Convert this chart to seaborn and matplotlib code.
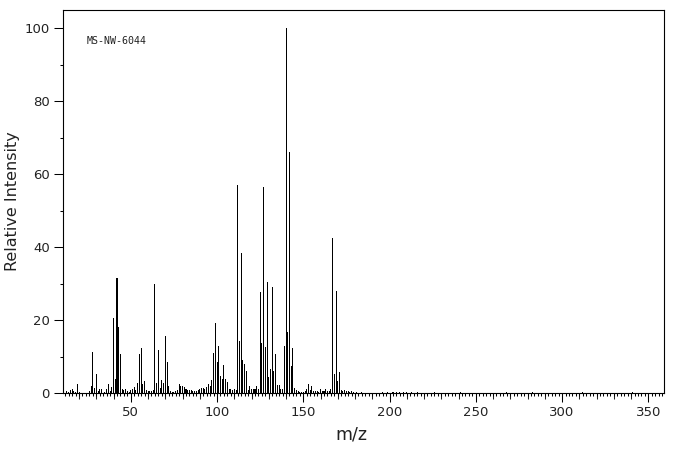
import pandas as pd
import seaborn as sns
import matplotlib.pyplot as plt
from matplotlib.ticker import MultipleLocator, FixedLocator

# peak list (m/z, relative intensity)
mz = [13, 14, 15, 16, 17, 18, 19, 20, 26, 27, 28, 29, 30, 31, 32, 33, 35, 36, 37, 38,
      39, 40, 41, 42, 43, 44, 45, 46, 47, 48, 49, 50, 51, 52, 53, 54, 55, 56, 57, 58,
      59, 60, 61, 62, 63, 64, 65, 66, 67, 68, 69, 70, 71, 72, 73, 74, 75, 76, 77, 78,
      79, 80, 81, 82, 83, 84, 85, 86, 87, 88, 89, 90, 91, 92, 93, 94, 95, 96, 97, 98,
      99, 100, 101, 102, 103, 104, 105, 106, 107, 108, 109, 110, 111, 112, 113, 114, 115, 116, 117, 118,
      119, 120, 121, 122, 123, 124, 125, 126, 127, 128, 129, 130, 131, 132, 133, 134, 135, 136, 137, 138,
      139, 140, 141, 142, 143, 144, 145, 146, 147, 148, 149, 150, 151, 152, 153, 154, 155, 156, 157, 158,
      159, 160, 161, 162, 163, 164, 165, 166, 167, 168, 169, 170, 171, 172, 173, 174, 175, 176, 177, 178,
      179, 181, 184, 196, 199, 202, 204, 206, 208, 210, 213, 216, 226, 241, 268, 283, 312, 341]
intensity = [0.5, 0.3, 0.8, 1.0, 0.6, 0.4, 2.5, 0.3, 0.5, 1.9, 11.3, 1.5, 5.2, 0.5, 1.0, 1.0, 0.4, 1.0, 2.5, 0.5,
             1.6, 20.5, 3.8, 31.4, 18.2, 10.6, 1.1, 0.8, 1.1, 0.6, 0.4, 0.7, 1.1, 1.6, 0.8, 2.8, 10.7, 12.2, 2.5, 3.3,
             0.8, 0.6, 0.5, 0.5, 0.7, 29.9, 2.8, 11.8, 1.5, 3.5, 2.8, 15.6, 8.5, 1.8, 0.5, 0.4, 0.4, 0.5, 0.8, 2.4,
             1.9, 1.8, 1.6, 1.2, 0.9, 0.9, 0.9, 0.6, 0.6, 0.5, 0.8, 1.2, 1.5, 1.3, 1.0, 1.6, 2.5, 2.0, 3.5, 11.0,
             19.3, 8.5, 12.9, 4.6, 3.8, 7.7, 3.8, 3.0, 1.0, 1.2, 0.8, 1.0, 0.8, 57.0, 14.2, 38.3, 9.0, 8.0, 6.1, 0.8,
             1.9, 1.0, 1.2, 1.2, 1.9, 1.0, 27.8, 13.8, 56.4, 12.5, 30.4, 4.3, 6.6, 29.0, 6.1, 10.8, 2.2, 2.2, 1.2, 1.2,
             12.9, 100.0, 16.6, 66.0, 7.5, 12.3, 1.5, 0.8, 0.5, 0.4, 0.4, 0.4, 0.6, 1.2, 2.5, 0.9, 1.8, 0.6, 0.6, 0.5,
             0.4, 1.2, 0.5, 0.6, 1.2, 0.6, 0.5, 1.2, 42.6, 5.3, 27.9, 3.4, 5.7, 0.8, 0.6, 0.7, 0.5, 0.6, 0.4, 0.5,
             0.4, 0.3, 0.3, 0.3, 0.3, 0.4, 0.3, 0.3, 0.3, 0.3, 0.3, 0.3, 0.3, 0.3, 0.3, 0.3, 0.3, 0.3]

x_ticks = [50, 100, 150, 200, 250, 300, 350]
y_ticks = [0, 20, 40, 60, 80, 100]

spectrum = pd.DataFrame({"mz": mz, "intensity": intensity})

sns.set_style("ticks")
plt.rcParams["font.family"] = ["DejaVu Sans"]

fig = plt.figure(figsize=(6.76, 4.55), dpi=100)
ax = fig.add_axes([63 / 676, 1 - 393 / 455, 601 / 676, 383 / 455])

sns.barplot(data=spectrum, x="mz", y="intensity", native_scale=True,
            width=0.6, color="black", saturation=1, linewidth=0,
            errorbar=None, ax=ax)

ax.set_xlim(10.7, 359.1)
ax.set_ylim(0, 105)

ax.xaxis.set_major_locator(FixedLocator(x_ticks))
ax.set_xticklabels([str(t) for t in x_ticks])
ax.xaxis.set_minor_locator(MultipleLocator(2))
ax.yaxis.set_major_locator(FixedLocator(y_ticks))
ax.set_yticklabels([str(t) for t in y_ticks])
ax.yaxis.set_minor_locator(MultipleLocator(10))

ax.tick_params(axis="both", which="major", length=6.5, width=0.75, color="black",
               direction="out", labelsize=9.5, labelcolor="#222222")
ax.tick_params(axis="x", which="major", pad=3)
ax.tick_params(axis="y", which="major", pad=3)
ax.tick_params(axis="both", which="minor", length=2.3, width=0.75, color="black", direction="out")

# medium ticks every 10 on m/z
sec = ax.secondary_xaxis("bottom")
sec.set_xticks(range(20, 360, 10))
sec.tick_params(length=4, width=0.75, labelbottom=False)
sec.spines["bottom"].set_visible(False)

for side in ["left", "right", "top", "bottom"]:
    ax.spines[side].set_visible(True)
    ax.spines[side].set_linewidth(0.8)
    ax.spines[side].set_color("black")

ax.set_xlabel("m/z", fontsize=12.5, color="#222222")
ax.set_ylabel("Relative Intensity", fontsize=11.5, color="#222222")
ax.xaxis.set_label_coords(0.479, -0.085)
ax.yaxis.set_label_coords(-0.072, 0.5)

ax.text(0.04, 0.919, "MS-NW-6044", transform=ax.transAxes, va="center",
        fontsize=7.2, family="DejaVu Sans Mono", color="#222222")

fig.savefig("out.png", dpi=100)
